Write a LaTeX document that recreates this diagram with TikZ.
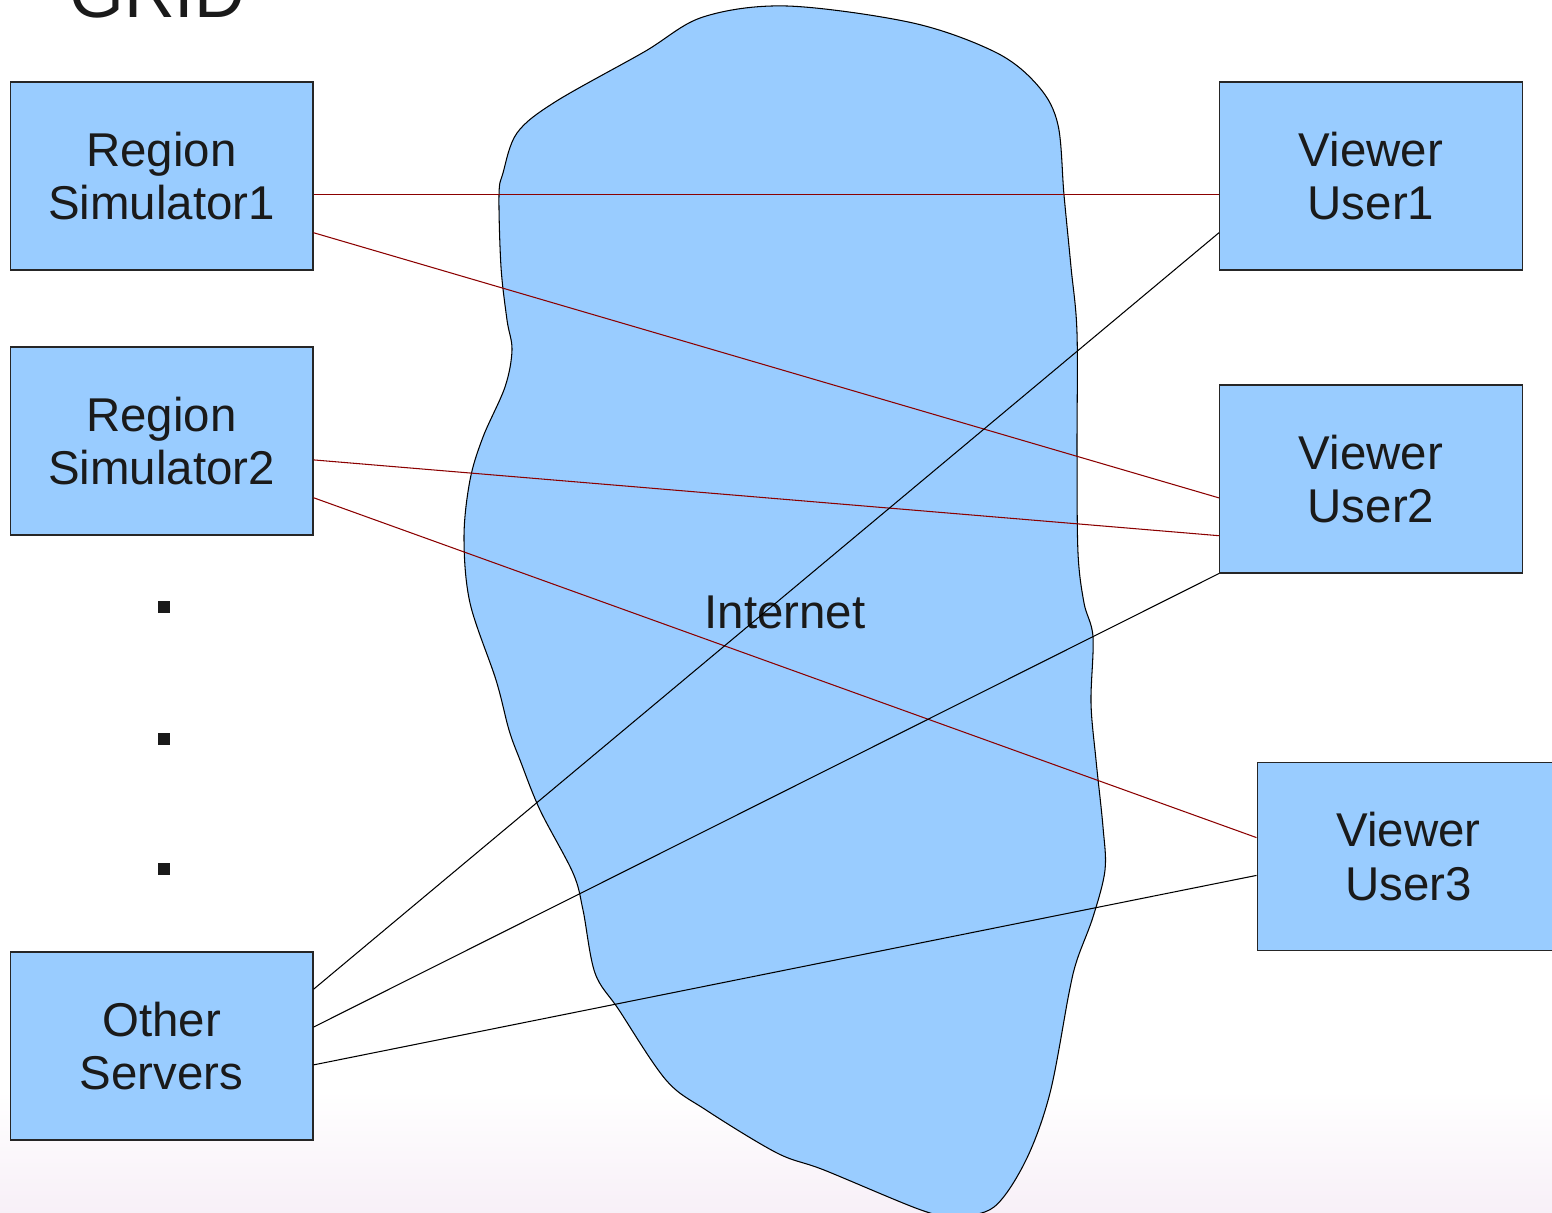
\documentclass[tikz,border=0pt]{standalone}
\usepackage{fontspec}
\setmainfont{Liberation Sans}
\usetikzlibrary{calc}
\definecolor{boxblue}{HTML}{99CCFF}
\definecolor{linkred}{HTML}{8B0000}
\definecolor{inkgrey}{HTML}{1A1A1A}
\tikzset{
	server/.style={draw=black!85, fill=boxblue, line width=0.6pt, minimum width=6.06cm, minimum height=3.76cm,
		inner sep=0pt, align=center, text=inkgrey, font=\fontsize{27}{30.6}\selectfont},
	dotmark/.style={fill=inkgrey, minimum size=0.24cm, inner sep=0pt},
	redlink/.style={linkred, line width=0.6pt},
	blacklink/.style={black, line width=0.6pt}
}
\begin{document}
\begin{tikzpicture}[x=0.02cm,y=-0.02cm]
	\useasboundingbox (0,0) rectangle (1552,1213);
	% BACKGROUND
	\shade[top color=white, bottom color=violet!6] (0,1090) rectangle (1552,1213);

	% TITLE
	\node[anchor=base west, inner sep=0pt, text=inkgrey, font=\fontsize{40}{48}\selectfont] (title) at (69,18) {GRID};

	% INTERNET CLOUD
	\draw[fill=boxblue, line width=0.6pt] plot[smooth cycle, tension=0.55] coordinates {
		(703,17) (787,6) (913,23) (997,53) (1039,87) (1058,125) (1064,195) (1071,267) (1077,333)
		(1077,453) (1078,553) (1084,603) (1093,637) (1091,703) (1096,760) (1103,827) (1105,870)
		(1093,917) (1077,960) (1069,993) (1050,1093) (1026,1160) (994,1207) (955,1216) (921,1210)
		(824,1170) (777,1153) (706,1110) (666,1080) (619,1010) (595,973) (583,910) (573,873)
		(540,810) (520,760) (509,730) (496,680) (470,603) (464,537) (470,480) (483,437) (505,387)
		(512,350) (507,320) (501,267) (499,195) (503,173) (517,133) (555,102) (644,52)};
	\node[anchor=base, inner sep=0pt, text=inkgrey, font=\fontsize{27}{30.6}\selectfont] (internet) at (785,628) {Internet};

	% SERVERS
	\node[server] (rs1) at (161.5,176) {Region\\Simulator1};
	\node[server] (rs2) at (161.5,441) {Region\\Simulator2};
	\node[server] (os) at (161.5,1046) {Other\\Servers};
	\foreach \y [count=\i] in {607,739,869} {
		\node[dotmark] (dot\i) at (164,\y) {};
	}

	% VIEWERS
	\node[server] (vu1) at (1371,176) {Viewer\\User1};
	\node[server] (vu2) at (1371,479) {Viewer\\User2};
	\node[server] (vu3) at (1408.5,856.5) {Viewer\\User3};

	% LINKS
	\draw[redlink] ($(rs1.north east)!0.6!(rs1.south east)$) -- ($(vu1.north west)!0.6!(vu1.south west)$);
	\draw[redlink] ($(rs1.north east)!0.8!(rs1.south east)$) -- ($(vu2.north west)!0.6!(vu2.south west)$);
	\draw[redlink] ($(rs2.north east)!0.6!(rs2.south east)$) -- ($(vu2.north west)!0.8!(vu2.south west)$);
	\draw[redlink] ($(rs2.north east)!0.8!(rs2.south east)$) -- ($(vu3.north west)!0.4!(vu3.south west)$);
	\draw[blacklink] ($(os.north east)!0.2!(os.south east)$) -- ($(vu1.north west)!0.8!(vu1.south west)$);
	\draw[blacklink] ($(os.north east)!0.4!(os.south east)$) -- (vu2.south west);
	\draw[blacklink] ($(os.north east)!0.6!(os.south east)$) -- ($(vu3.north west)!0.6!(vu3.south west)$);
\end{tikzpicture}
\end{document}
